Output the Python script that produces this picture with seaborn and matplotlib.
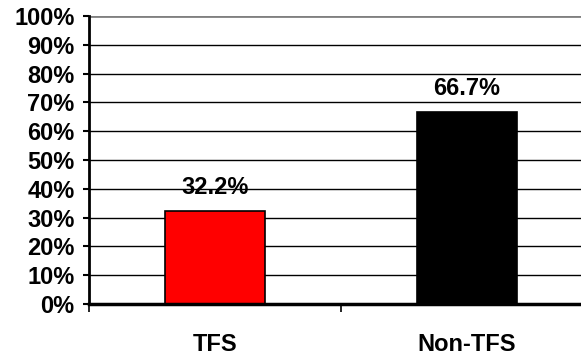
import matplotlib
matplotlib.use("Agg")
import matplotlib.pyplot as plt
import seaborn as sns
import pandas as pd
from matplotlib.ticker import FixedLocator

categories = ["TFS", "Non-TFS"]
values = [32.2, 66.7]
colors = ["#FF0000", "#000000"]
yticks = list(range(0, 101, 10))
ytick_labels = [f"{t}%" for t in yticks]

sns.set_theme(style="white")
plt.rcParams['font.family'] = ['Liberation Sans', 'DejaVu Sans']
plt.rcParams['text.color'] = 'black'
plt.rcParams['xtick.color'] = 'black'
plt.rcParams['ytick.color'] = 'black'

FS = 17

df = pd.DataFrame({"cat": categories, "val": values})

fig = plt.figure(figsize=(5.81, 3.56), dpi=100)
ax = fig.add_axes([89/581, (356-304)/356, (593-89)/581, (304-16)/356])

sns.barplot(data=df, x="cat", y="val", hue="cat", palette=colors, width=0.4,
            saturation=1, edgecolor="black", linewidth=1.2, legend=False, ax=ax, zorder=3)

ax.set_xlim(-0.5, 1.5)
ax.set_ylim(0, 100)
ax.set_yticks(yticks)
ax.set_yticklabels(ytick_labels, fontsize=FS, fontweight="bold", color="black")
for t in yticks[1:-1]:
    ax.axhline(t, color="black", linewidth=1, zorder=1)
ax.axhline(100, color="#808080", linewidth=2, zorder=1)

ax.set_xticks([0, 1])
ax.set_xticklabels(categories, fontsize=FS, fontweight="bold", color="black")
ax.tick_params(axis="x", length=0, pad=21)
ax.xaxis.set_minor_locator(FixedLocator([-0.5, 0.5, 1.5]))
ax.tick_params(axis="x", which="minor", length=6, width=1.2, color="black", bottom=True, direction="out")
ax.tick_params(axis="y", length=4.5, width=1.5, color="black", left=True, direction="out", pad=6)

ax.set_xlabel("")
ax.set_ylabel("")
for s in ["top", "right"]:
    ax.spines[s].set_visible(False)
ax.spines["left"].set_linewidth(2)
ax.spines["left"].set_color("black")
ax.spines["bottom"].set_linewidth(2.5)
ax.spines["bottom"].set_color("black")
ax.spines["bottom"].set_zorder(5)

for i, v in enumerate(values):
    ax.text(i, v + 4.2, f"{v:.1f}%", ha="center", va="bottom", fontsize=FS,
            fontweight="bold", color="black", zorder=6)

fig.savefig("out.png", dpi=100)
